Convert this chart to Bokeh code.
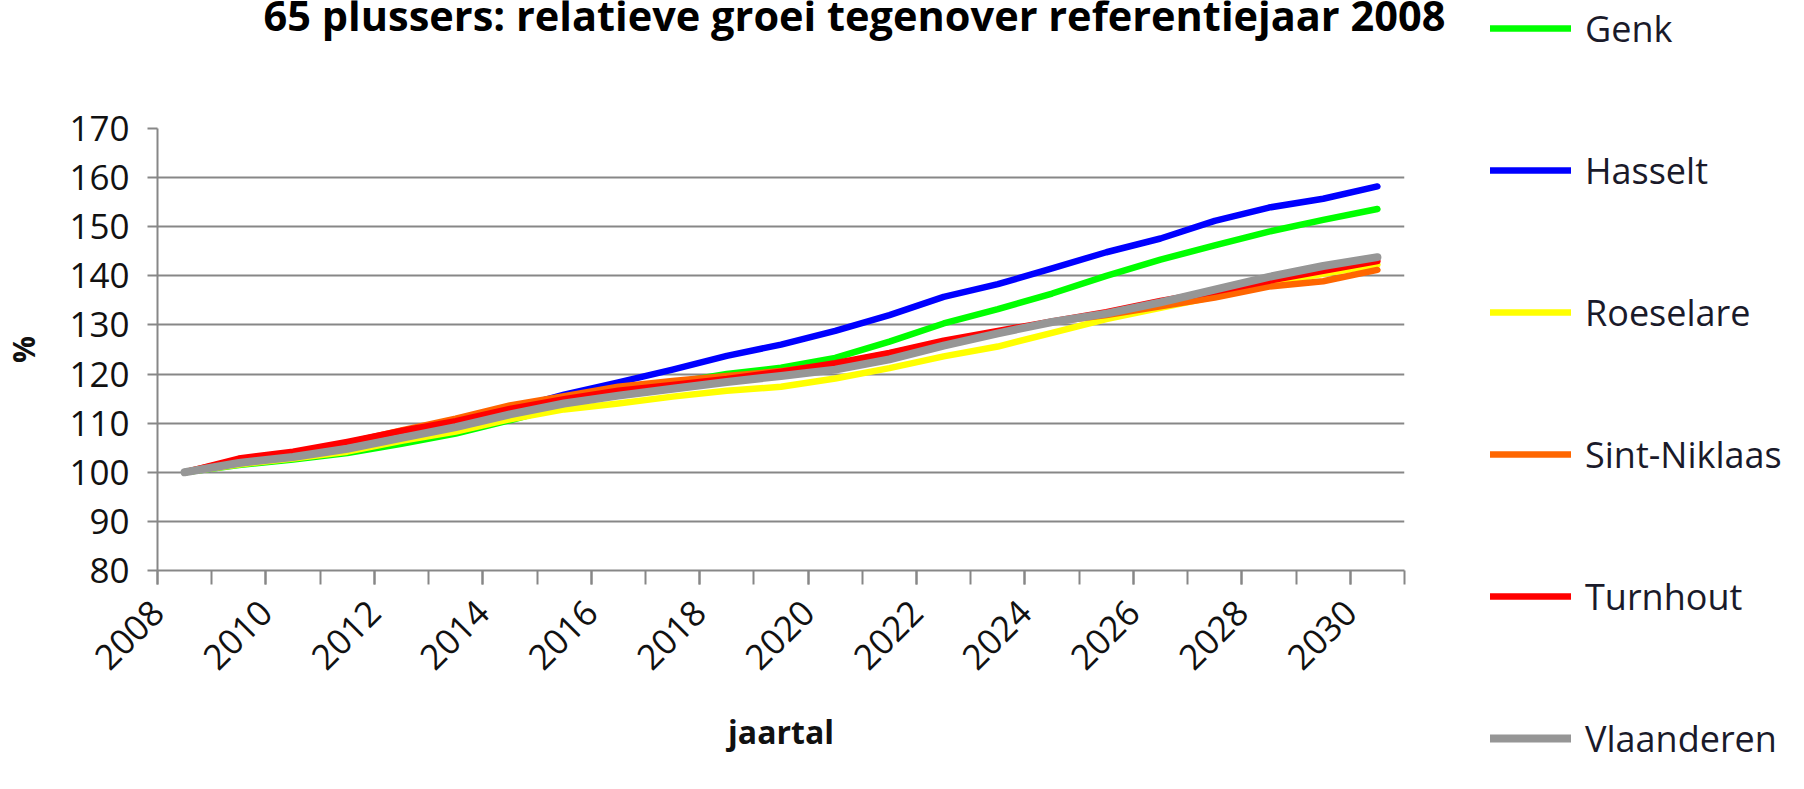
import math
from bokeh.plotting import figure
from bokeh.layouts import row, column
from bokeh.models import Range1d, FixedTicker, Legend, LegendItem, Label, CustomJSTickFormatter
from bokeh.embed import file_html
from bokeh.resources import INLINE

# ---------------- data ----------------
years = list(range(2008, 2031))
genk = [100, 101.5, 102.6, 103.9, 105.8, 107.9, 110.6, 113.5, 116.3, 118.2, 120.0, 121.3,
        123.3, 126.6, 130.3, 133.2, 136.4, 140.0, 143.3, 146.2, 149.0, 151.4, 153.6]
hasselt = [100, 101.8, 103.0, 104.8, 107.0, 109.8, 112.8, 115.8, 118.3, 120.9, 123.7, 126.0,
           128.8, 132.0, 135.7, 138.3, 141.5, 144.8, 147.6, 151.2, 153.9, 155.7, 158.2]
roeselare = [100, 101.6, 102.8, 104.2, 106.4, 108.3, 110.8, 112.8, 114.0, 115.4, 116.6, 117.4,
             119.1, 121.2, 123.6, 125.6, 128.4, 131.2, 133.5, 135.8, 138.4, 140.4, 142.3]
sint_niklaas = [100, 102.5, 104.0, 106.0, 108.5, 110.9, 113.6, 115.5, 117.4, 118.6, 119.6, 120.6,
                122.0, 124.2, 126.6, 128.6, 130.6, 132.0, 133.8, 135.6, 137.8, 138.9, 141.2]
turnhout = [100, 102.8, 104.2, 106.2, 108.4, 110.4, 112.9, 114.9, 116.6, 117.8, 119.0, 120.5,
            122.2, 124.3, 126.8, 128.8, 130.7, 132.6, 134.9, 136.8, 139.0, 141.0, 143.0]
vlaanderen = [100, 101.9, 103.1, 104.8, 107.0, 109.2, 111.8, 114.0, 115.6, 117.0, 118.4, 119.6,
              120.9, 123.0, 125.8, 128.3, 130.6, 132.3, 134.6, 137.2, 139.8, 142.0, 143.8]

series_names = ["Genk", "Hasselt", "Roeselare", "Sint-Niklaas", "Turnhout", "Vlaanderen"]
series_values = [genk, hasselt, roeselare, sint_niklaas, turnhout, vlaanderen]
series_colors = ["#00ff00", "#0000ff", "#ffff00", "#ff6600", "#ff0000", "#969696"]
series_widths = [6.5, 6.5, 6.5, 6.5, 6.5, 8]

y_ticks = list(range(80, 171, 10))
label_years = years[::2]

title_text = "65 plussers: relatieve groei tegenover referentiejaar 2008"
x_title = "jaartal"
y_title = "%"

FONT = "Open Sans"
GRID = "#878787"
TXT = "#111111"

# ---------------- layout sizes (pixels) ----------------
TOTAL_W, TOTAL_H = 1788, 773
LEFT_W = 1480
RIGHT_W = TOTAL_W - LEFT_W
TITLE_H = 100
MAIN_H = TOTAL_H - TITLE_H
MAIN_TOP, FRAME_H = 28, 442
MAIN_BOTTOM = MAIN_H - MAIN_TOP - FRAME_H
FRAME_L, FRAME_R = 155, 1404
LEG_ITEM_H, LEG_SPACING = 50, 92
LEG_X = 1490


def blank(width, height, left=0, right=0):
    f = figure(width=width, height=height, output_backend="svg", toolbar_location=None,
               x_axis_location=None, y_axis_location=None,
               min_border_left=left, min_border_right=right,
               min_border_top=0, min_border_bottom=0,
               x_range=Range1d(0, 1), y_range=Range1d(0, 1))
    f.grid.visible = False
    f.outline_line_color = None
    f.background_fill_color = "white"
    f.border_fill_color = "white"
    return f


def make_legend(fig, names, values, colors, widths, loc):
    its = []
    for name, vals, col, lw in zip(names, values, colors, widths):
        # same series, outside this strip's visible range: only the legend swatch shows
        r = fig.line(years, vals, line_color=col, line_width=lw, line_cap="round")
        its.append(LegendItem(label=name, renderers=[r]))
    lg = Legend(items=its, location=loc, orientation="vertical",
                spacing=LEG_SPACING, padding=0, margin=0, border_line_color=None,
                background_fill_alpha=0, glyph_width=81, glyph_height=LEG_ITEM_H,
                label_height=LEG_ITEM_H, label_standoff=14, label_text_font=FONT,
                label_text_font_size="36px", label_text_color="#1a1a2a",
                label_text_baseline="middle")
    fig.add_layout(lg)


# ---------------- title strip (title + first legend entry) ----------------
title_fig = blank(TOTAL_W, TITLE_H, left=FRAME_L)
title_fig.add_layout(Label(x=854 - FRAME_L, y=TITLE_H - 14, x_units="screen", y_units="screen",
                           text=title_text, text_font=FONT, text_font_style="bold",
                           text_font_size="41.5px", text_color="#000000",
                           text_align="center", text_baseline="alphabetic"))
make_legend(title_fig, series_names[:1], series_values[:1], series_colors[:1],
            series_widths[:1], (LEG_X - FRAME_L, TITLE_H - (28 + LEG_ITEM_H // 2)))

# ---------------- main chart ----------------
p = figure(width=LEFT_W, height=MAIN_H, output_backend="svg", toolbar_location=None,
           x_range=Range1d(years[0] - 0.5, years[-1] + 0.5),
           y_range=Range1d(y_ticks[0], y_ticks[-1]),
           min_border_left=FRAME_L, min_border_right=LEFT_W - FRAME_R,
           min_border_top=MAIN_TOP, min_border_bottom=MAIN_BOTTOM)
p.outline_line_color = None
p.background_fill_color = "white"
p.border_fill_color = "white"

boundaries = [y - 0.5 for y in years] + [years[-1] + 0.5]
xa = p.xaxis[0]
xa.ticker = FixedTicker(ticks=[y - 0.5 for y in label_years], minor_ticks=boundaries)
xa.formatter = CustomJSTickFormatter(code="return (tick + 0.5).toFixed(0);")
xa.major_label_orientation = math.pi / 4
xa.axis_line_color = GRID
xa.axis_line_width = 2
xa.major_tick_line_color = GRID
xa.minor_tick_line_color = GRID
xa.major_tick_line_width = 2
xa.minor_tick_line_width = 2
xa.major_tick_in = 0
xa.major_tick_out = 14
xa.minor_tick_in = 0
xa.minor_tick_out = 14
xa.major_label_standoff = 22
xa.major_label_text_font = FONT
xa.major_label_text_font_size = "35px"
xa.major_label_text_color = TXT
xa.axis_label = x_title
xa.axis_label_text_font = FONT
xa.axis_label_text_font_style = "bold"
xa.axis_label_text_font_size = "32px"
xa.axis_label_text_color = TXT
xa.axis_label_standoff = 26

ya = p.yaxis[0]
ya.ticker = FixedTicker(ticks=y_ticks)
ya.axis_line_color = GRID
ya.axis_line_width = 2
ya.major_tick_line_color = GRID
ya.major_tick_line_width = 2
ya.major_tick_in = 0
ya.major_tick_out = 10
ya.minor_tick_line_color = None
ya.major_label_standoff = 18
ya.major_label_text_font = FONT
ya.major_label_text_font_size = "35px"
ya.major_label_text_color = TXT
ya.axis_label = y_title
ya.axis_label_text_font = FONT
ya.axis_label_text_font_style = "bold"
ya.axis_label_text_font_size = "30px"
ya.axis_label_text_color = TXT
ya.axis_label_standoff = 22

p.xgrid.visible = False
p.ygrid.ticker = FixedTicker(ticks=y_ticks[1:-1])
p.ygrid.grid_line_color = GRID
p.ygrid.grid_line_width = 2

for vals, col, lw in zip(series_values, series_colors, series_widths):
    p.line(years, vals, line_color=col, line_width=lw, line_join="round", line_cap="round")

# ---------------- legend strip (remaining entries) ----------------
LEG_H = TOTAL_H - TITLE_H
leg_fig = blank(RIGHT_W, LEG_H)
n_rest = len(series_names) - 1
rest_h = n_rest * LEG_ITEM_H + (n_rest - 1) * LEG_SPACING
first_center = 28 + LEG_ITEM_H + LEG_SPACING - TITLE_H
make_legend(leg_fig, series_names[1:], series_values[1:], series_colors[1:], series_widths[1:],
            (LEG_X - LEFT_W, LEG_H - (first_center - LEG_ITEM_H // 2 + rest_h)))

layout = column(title_fig, row(column(p), leg_fig))

open("out.html", "w").write(file_html(layout, INLINE))
